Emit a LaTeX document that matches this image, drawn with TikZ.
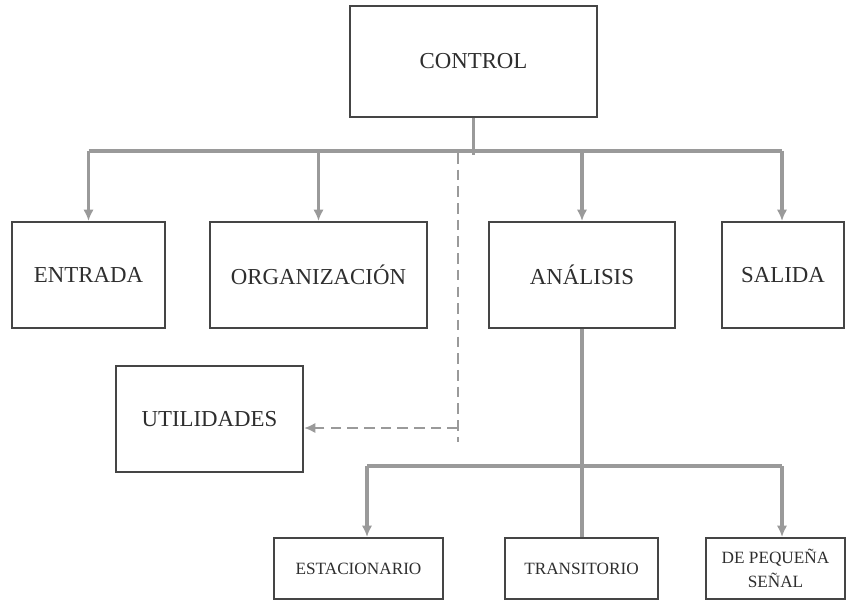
\documentclass[tikz,border=0pt]{standalone}
\usepackage{fontspec}
\setmainfont{Liberation Serif}
\usepackage{xcolor}
\usetikzlibrary{positioning,calc,arrows.meta}

\definecolor{linegray}{HTML}{9A9A9A}
\definecolor{boxgray}{HTML}{454545}
\definecolor{textgray}{HTML}{2E2E2E}

\begin{document}
\begin{tikzpicture}[x=0.02cm, y=-0.02cm,
    block/.style={draw=boxgray, line width=1.2pt, rectangle, minimum height=2.12cm, text=textgray, font=\fontsize{13}{15}\selectfont},
    small/.style={draw=boxgray, line width=1.2pt, rectangle, minimum height=1.22cm, align=center, text=textgray, font=\fontsize{9.8}{13.5}\selectfont},
    conn/.style={draw=linegray, line width=2.1pt},
    arr/.style={conn, -{Latex[length=6.5pt,width=6pt]}},
    dashline/.style={draw=linegray, line width=1.6pt, dash pattern=on 6pt off 3.5pt}]
    \useasboundingbox (0,0) rectangle (847,601);

    % Top level
    \node[block, minimum width=4.94cm, minimum height=2.22cm] (control) at (473.5, 61.5) {CONTROL};
    \node[block, minimum width=3.06cm] (entrada) at (88.5, 275) {ENTRADA};
    \node[block, minimum width=4.34cm] (organizacion) at (318.5, 275) {ORGANIZACIÓN};
    \node[block, minimum width=3.72cm] (analisis) at (582, 275) {ANÁLISIS};
    \node[block, minimum width=2.44cm] (salida) at (783, 275) {SALIDA};
    \node[block, minimum width=3.74cm] (utilidades) at (209.5, 419) {UTILIDADES};

    % Analysis types
    \node[small, minimum width=3.38cm] (estacionario) at (358.5, 568.5) {ESTACIONARIO};
    \node[small, minimum width=3.06cm] (transitorio) at (581.5, 568.5) {TRANSITORIO};
    \node[small, minimum width=2.78cm] (pequena) at (775.5, 568.5) {DE PEQUEÑA\\SEÑAL};

    % Control bus
    \coordinate (busc) at (473.5, 155);
    \coordinate (busL) at (88.5, 151);
    \coordinate (busR) at (782, 151);
    \draw[conn] (control.south) -- (busc);
    \draw[conn] (busL) -- (busR);
    \foreach \n in {entrada, organizacion, analisis} {
        \draw[arr] (\n.north |- busL) -- (\n.north);
    }
    \draw[arr] (busR) -- (busR |- salida.north);

    % Utilities (dashed)
    \coordinate (dtop) at (458, 153);
    \coordinate (dbot) at (458, 442);
    \coordinate (dj) at (458, 428);
    \draw[dashline] (dtop) -- (dbot);
    \draw[dashline, -{Latex[length=6.5pt,width=6pt]}] (dj) -- (dj -| utilidades.east);

    % Analysis bus
    \coordinate (sL) at (367, 466);
    \coordinate (sR) at (782, 466);
    \draw[conn] (analisis.south) -- (analisis.south |- transitorio.north);
    \draw[conn] (sL) -- (sR);
    \draw[arr] (sL) -- (sL |- estacionario.north);
    \draw[arr] (sR) -- (sR |- pequena.north);
\end{tikzpicture}
\end{document}
